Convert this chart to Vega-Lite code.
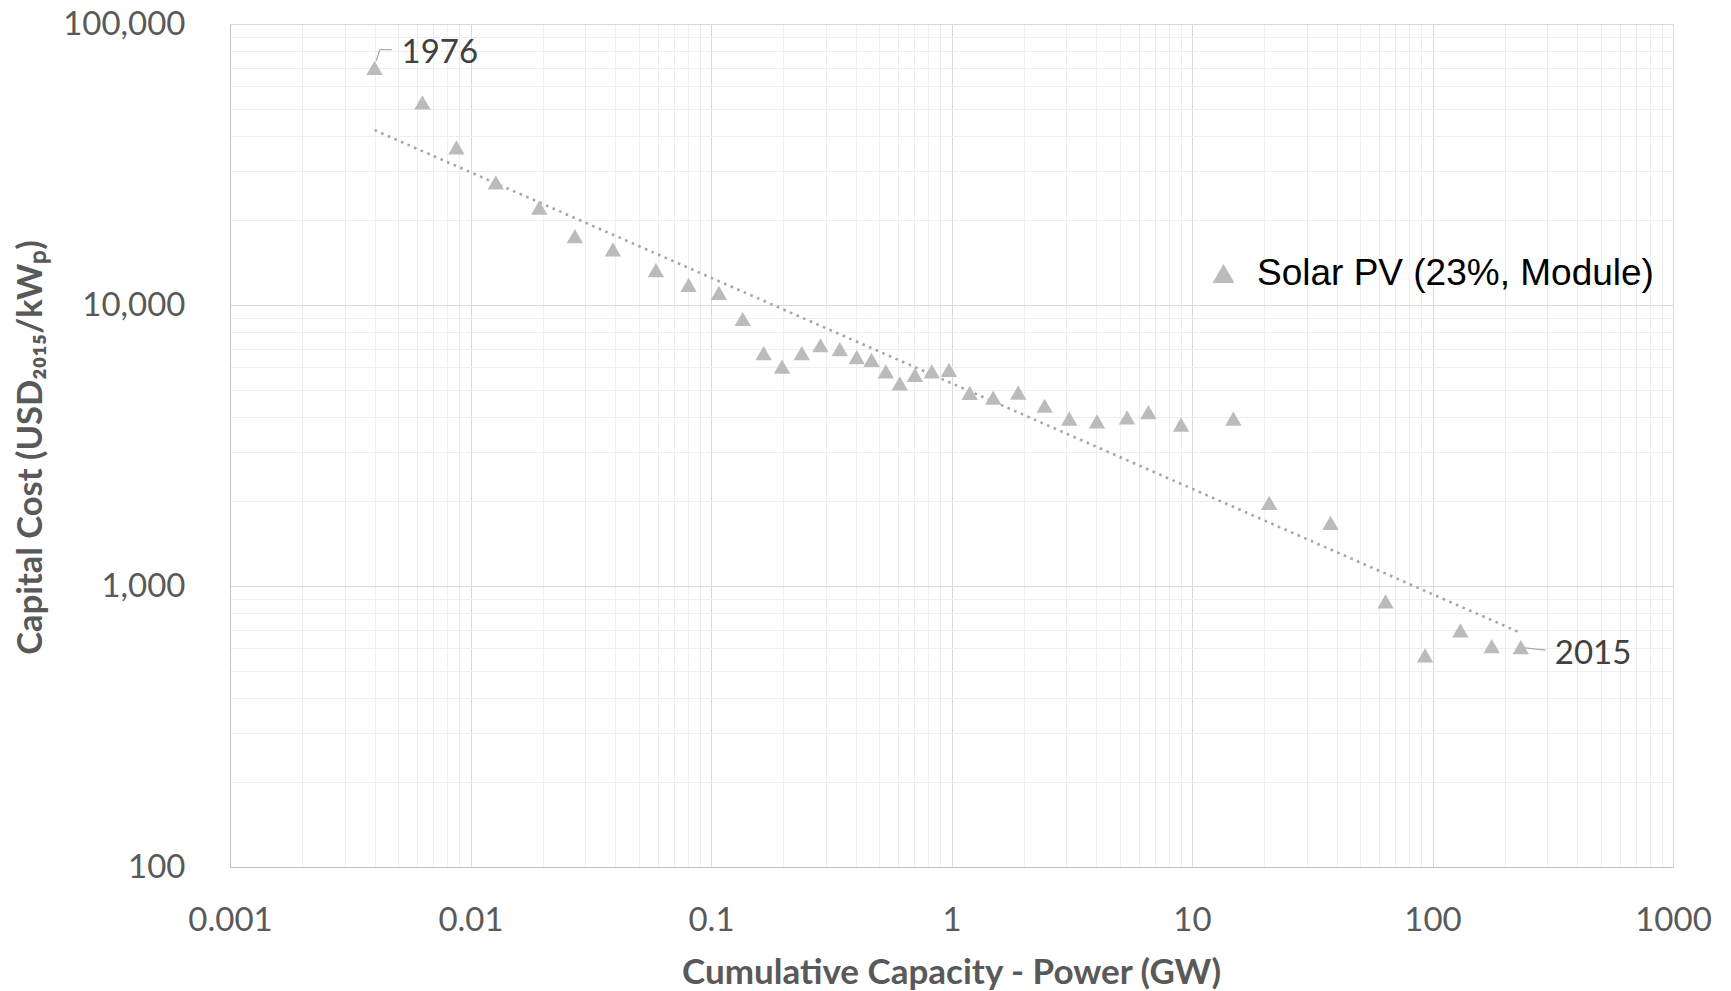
{
  "$schema": "https://vega.github.io/schema/vega-lite/v6.json",
  "autosize": {"type": "none"},
  "padding": {"left": 230, "top": 24, "right": 58, "bottom": 124},
  "width": 1443,
  "height": 843,
  "background": "white",
  "view": {"stroke": null},
  "data": {
    "values": [
      {"year": 1976, "cap": 0.00399, "cost": 69800},
      {"year": 1977, "cap": 0.00631, "cost": 52600},
      {"year": 1978, "cap": 0.00874, "cost": 36400},
      {"year": 1979, "cap": 0.01274, "cost": 27300},
      {"year": 1980, "cap": 0.01931, "cost": 22200},
      {"year": 1981, "cap": 0.02716, "cost": 17570},
      {"year": 1982, "cap": 0.0391, "cost": 15760},
      {"year": 1983, "cap": 0.059, "cost": 13300},
      {"year": 1984, "cap": 0.0807, "cost": 11800},
      {"year": 1985, "cap": 0.1079, "cost": 11050},
      {"year": 1986, "cap": 0.1355, "cost": 8930},
      {"year": 1987, "cap": 0.1655, "cost": 6740},
      {"year": 1988, "cap": 0.1974, "cost": 6040},
      {"year": 1989, "cap": 0.2385, "cost": 6740},
      {"year": 1990, "cap": 0.2851, "cost": 7190},
      {"year": 1991, "cap": 0.3432, "cost": 6960},
      {"year": 1992, "cap": 0.4036, "cost": 6520},
      {"year": 1993, "cap": 0.4651, "cost": 6380},
      {"year": 1994, "cap": 0.5333, "cost": 5800},
      {"year": 1995, "cap": 0.6095, "cost": 5260},
      {"year": 1996, "cap": 0.7045, "cost": 5640},
      {"year": 1997, "cap": 0.8277, "cost": 5810},
      {"year": 1998, "cap": 0.9755, "cost": 5880},
      {"year": 1999, "cap": 1.19, "cost": 4870},
      {"year": 2000, "cap": 1.491, "cost": 4680},
      {"year": 2001, "cap": 1.895, "cost": 4880},
      {"year": 2002, "cap": 2.44, "cost": 4380},
      {"year": 2003, "cap": 3.088, "cost": 3940},
      {"year": 2004, "cap": 4.027, "cost": 3850},
      {"year": 2005, "cap": 5.37, "cost": 3980},
      {"year": 2006, "cap": 6.587, "cost": 4155},
      {"year": 2007, "cap": 9.007, "cost": 3755},
      {"year": 2008, "cap": 14.86, "cost": 3940},
      {"year": 2009, "cap": 20.94, "cost": 1977},
      {"year": 2010, "cap": 37.67, "cost": 1679},
      {"year": 2011, "cap": 63.8, "cost": 881},
      {"year": 2012, "cap": 93.1, "cost": 566},
      {"year": 2013, "cap": 130.6, "cost": 695},
      {"year": 2014, "cap": 176.3, "cost": 611},
      {"year": 2015, "cap": 232.8, "cost": 606}
    ]
  },
  "encoding": {
    "x": {
      "field": "cap",
      "type": "quantitative",
      "scale": {"type": "log", "domain": [0.001, 1000], "nice": false},
      "axis": {
        "values": [0.001,0.002,0.003,0.004,0.005,0.006,0.007,0.008,0.009,0.01,0.02,0.03,0.04,0.05,0.06,0.07,0.08,0.09,0.1,0.2,0.3,0.4,0.5,0.6,0.7,0.8,0.9,1,2,3,4,5,6,7,8,9,10,20,30,40,50,60,70,80,90,100,200,300,400,500,600,700,800,900,1000],
        "labelExpr": "indexof([0.001,0.01,0.1,1,10,100,1000], datum.value) >= 0 ? format(datum.value, '~g') : ''",
        "grid": true,
        "gridColor": {"condition": {"test": "indexof([0.001,0.01,0.1,1,10,100,1000], datum.value) >= 0", "value": "#d9d9d9"}, "value": "#eeeeee"},
        "gridWidth": 1,
        "ticks": false,
        "domainColor": "#bfbfbf",
        "domainWidth": 1,
        "labelFont": "Lato",
        "labelFontSize": 33,
        "labelColor": "#595959",
        "labelPadding": 37,
        "labelOverlap": false,
        "labelBound": false,
        "labelFlush": false,
        "title": "Cumulative Capacity - Power (GW)",
        "titleFont": "Lato",
        "titleFontWeight": "bold",
        "titleFontSize": 35,
        "titleColor": "#595959",
        "titleX": 721,
        "titleY": 116,
        "titleBaseline": "alphabetic",
        "titleAlign": "center"
      }
    },
    "y": {
      "field": "cost",
      "type": "quantitative",
      "scale": {"type": "log", "domain": [100, 100000], "nice": false},
      "axis": {
        "values": [100,200,300,400,500,600,700,800,900,1000,2000,3000,4000,5000,6000,7000,8000,9000,10000,20000,30000,40000,50000,60000,70000,80000,90000,100000],
        "labelExpr": "indexof([100,1000,10000,100000], datum.value) >= 0 ? format(datum.value, ',') : ''",
        "grid": true,
        "gridColor": {"condition": {"test": "indexof([100,1000,10000,100000], datum.value) >= 0", "value": "#d9d9d9"}, "value": "#eeeeee"},
        "gridWidth": 1,
        "ticks": false,
        "domainColor": "#bfbfbf",
        "domainWidth": 1,
        "labelFont": "Lato",
        "labelFontSize": 33,
        "labelColor": "#595959",
        "labelPadding": 45,
        "labelOverlap": false,
        "labelBound": false,
        "labelFlush": false,
        "title": "Capital Cost (USD₂₀₁₅/kWₚ)",
        "titleFont": "Lato",
        "titleFontWeight": "bold",
        "titleFontSize": 34.5,
        "titleColor": "#595959",
        "titleAngle": -90,
        "titleX": -189,
        "titleY": 423,
        "titleBaseline": "alphabetic",
        "titleAlign": "center"
      }
    }
  },
  "layer": [
    {
      "transform": [{"regression": "cost", "on": "cap", "method": "pow"}],
      "mark": {"type": "line", "color": "#a6a6a6", "strokeWidth": 2.6, "strokeDash": [2.6, 4.6]}
    },
    {
      "mark": {"type": "point", "shape": "triangle-up", "filled": true, "size": 270, "opacity": 1},
      "encoding": {
        "color": {
          "datum": "Solar PV (23%, Module)",
          "scale": {"range": ["#bbbbbb"]},
          "legend": {
            "title": null,
            "orient": "none",
            "legendX": 975,
            "legendY": 231,
            "symbolType": "triangle-up",
            "symbolSize": 484,
            "symbolStrokeWidth": 0,
            "labelFont": "Liberation Sans",
            "labelFontSize": 37,
            "labelColor": "#000000",
            "labelOffset": 15,
            "padding": 0,
            "labelLimit": 800
          }
        }
      }
    },
    {
      "transform": [{"filter": "datum.year == 1976"}],
      "mark": {"type": "rule", "color": "#a6a6a6", "strokeWidth": 1.2, "xOffset": 1.7, "yOffset": -7, "x2Offset": 5, "y2Offset": -17.6},
      "encoding": {"x2": {"field": "cap"}, "y2": {"field": "cost"}}
    },
    {
      "transform": [{"filter": "datum.year == 1976"}],
      "mark": {"type": "rule", "color": "#a6a6a6", "strokeWidth": 1.2, "xOffset": 5, "yOffset": -18.3, "x2Offset": 17.3, "y2Offset": -18.3},
      "encoding": {"x2": {"field": "cap"}, "y2": {"field": "cost"}}
    },
    {
      "transform": [{"filter": "datum.year == 2015"}],
      "mark": {"type": "rule", "color": "#a6a6a6", "strokeWidth": 1.2, "xOffset": 3, "yOffset": 0.6, "x2Offset": 24.7, "y2Offset": 3},
      "encoding": {"x2": {"field": "cap"}, "y2": {"field": "cost"}}
    },
    {
      "transform": [{"filter": "datum.year == 1976"}],
      "mark": {"type": "text", "align": "left", "baseline": "alphabetic", "dx": 27, "dy": -5, "font": "Lato", "fontSize": 33, "color": "#404040"},
      "encoding": {"text": {"field": "year", "type": "nominal"}}
    },
    {
      "transform": [{"filter": "datum.year == 2015"}],
      "mark": {"type": "text", "align": "left", "baseline": "alphabetic", "dx": 34, "dy": 16.6, "font": "Lato", "fontSize": 33, "color": "#404040"},
      "encoding": {"text": {"field": "year", "type": "nominal"}}
    }
  ]
}
